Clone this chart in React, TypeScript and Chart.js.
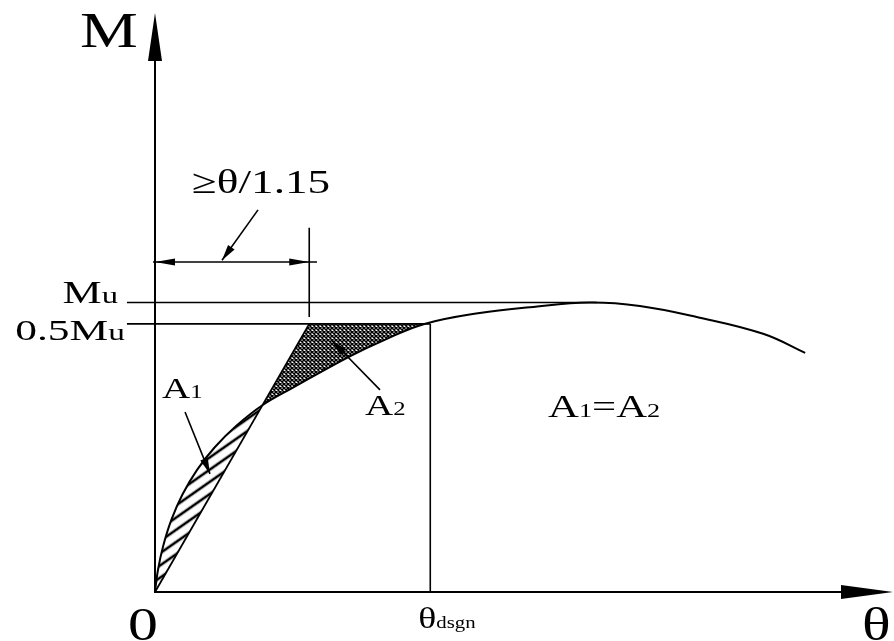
import React, { useEffect, useRef } from 'react';
import { Chart, registerables } from 'chart.js';

Chart.register(...registerables);

// Moment–rotation curve, rotation θ and moment M in plot units
const THETA = [0, 0.4, 1.1, 2.2, 3.7, 5.7, 8.1, 11.1, 14.6, 18.7, 26.4, 31.2, 36.5, 44.0, 50.8, 58.9, 65.7, 73.4, 82.4, 88.1];
const MOMENT = [0, 3.8, 7.9, 12.4, 16.8, 21.1, 25.0, 28.8, 32.3, 35.3, 40.7, 43.6, 46.3, 48.2, 49.2, 50.0, 49.4, 47.5, 44.6, 41.3];

// Idealised bilinear response
const MU = 50;
const M_PLATEAU = 46.3;
const THETA_YIELD = 20.9;
const THETA_DESIGN = 37.3;
const CROSS_INDEX = 8;    // curve point where the elastic branch crosses the curve
const PLATEAU_INDEX = 12; // curve point where the curve reaches the plateau level

// Tick labels
const Y_TICK_VALUES = [MU, M_PLATEAU];
const Y_TICK_MAIN = ['M', '0.5M'];
const Y_TICK_SUB = ['u', 'u'];
const X_TICK_VALUES = [0, THETA_DESIGN];
const X_TICK_MAIN = ['0', 'θ'];
const X_TICK_SUB = ['', 'dsgn'];

const AXIS_MAX_X = 100;
const AXIS_MAX_Y = 100;
const TICK_START = -3.8;
const MU_LINE_END = 59.9;

// Dimension line for the elastic branch
const DIM_LEVEL = 57.0;
const DIM_START = -0.27;
const DIM_END = 21.95;
const EXT_TOP = 62.9;
const EXT_BOTTOM = 47.5;

const FONT = '"Liberation Serif", "Times New Roman", serif';
const STRETCH = 1.3;

function makeHatch(ctx: CanvasRenderingContext2D) {
  const c = document.createElement('canvas');
  c.width = 10;
  c.height = 10;
  const g = c.getContext('2d')!;
  g.strokeStyle = '#000';
  g.lineWidth = 2.6;
  g.beginPath();
  g.moveTo(0, 5);
  g.lineTo(10, 5);
  g.stroke();
  const p = ctx.createPattern(c, 'repeat')!;
  p.setTransform(new DOMMatrix().rotate(-35));
  return p;
}

function makeMesh(ctx: CanvasRenderingContext2D) {
  const c = document.createElement('canvas');
  c.width = 4;
  c.height = 4;
  const g = c.getContext('2d')!;
  g.strokeStyle = '#000';
  g.lineWidth = 1.5;
  g.beginPath();
  g.moveTo(0, 0);
  g.lineTo(4, 4);
  g.moveTo(4, 0);
  g.lineTo(0, 4);
  g.stroke();
  return ctx.createPattern(c, 'repeat')!;
}

function arrowHead(ctx: CanvasRenderingContext2D, tx: number, ty: number, fx: number, fy: number, len: number, half: number) {
  const dx = tx - fx;
  const dy = ty - fy;
  const d = Math.hypot(dx, dy) || 1;
  const ux = dx / d;
  const uy = dy / d;
  const bx = tx - ux * len;
  const by = ty - uy * len;
  ctx.beginPath();
  ctx.moveTo(tx, ty);
  ctx.lineTo(bx - uy * half, by + ux * half);
  ctx.lineTo(bx + uy * half, by - ux * half);
  ctx.closePath();
  ctx.fill();
}

type Part = { text: string; size: number };

function drawLabel(ctx: CanvasRenderingContext2D, parts: Part[], x: number, y: number, align: 'left' | 'right' = 'left', stretch = STRETCH) {
  ctx.save();
  ctx.translate(x, y);
  ctx.scale(stretch, 1);
  ctx.textBaseline = 'alphabetic';
  ctx.textAlign = 'left';
  const widths = parts.map((p) => {
    ctx.font = `${p.size}px ${FONT}`;
    return ctx.measureText(p.text).width;
  });
  const total = widths.reduce((a, b) => a + b, 0);
  let cx = align === 'right' ? -total : 0;
  parts.forEach((p, i) => {
    ctx.font = `${p.size}px ${FONT}`;
    ctx.fillText(p.text, cx, 0);
    cx += widths[i];
  });
  ctx.restore();
}

const diagramPlugin = {
  id: 'momentRotationDiagram',
  beforeDatasetsDraw(chart: any) {
    const { ctx, scales } = chart;
    const px = (v: number) => scales.x.getPixelForValue(v);
    const py = (v: number) => scales.y.getPixelForValue(v);
    const line = chart.getDatasetMeta(0).dataset;
    if (line.updateControlPoints) line.updateControlPoints(chart.chartArea, 'x');

    ctx.save();
    // A1: curve above the elastic branch
    ctx.beginPath();
    line.path(ctx, 0, CROSS_INDEX + 1);
    ctx.lineTo(px(0), py(0));
    ctx.closePath();
    ctx.fillStyle = makeHatch(ctx);
    ctx.fill();

    // A2: between the idealised corner and the curve
    ctx.beginPath();
    line.path(ctx, CROSS_INDEX, PLATEAU_INDEX - CROSS_INDEX + 1);
    ctx.lineTo(px(THETA_YIELD), py(M_PLATEAU));
    ctx.closePath();
    ctx.fillStyle = makeMesh(ctx);
    ctx.fill();
    ctx.restore();
  },
  afterDatasetsDraw(chart: any) {
    const { ctx, scales } = chart;
    const px = (v: number) => scales.x.getPixelForValue(v);
    const py = (v: number) => scales.y.getPixelForValue(v);
    const x0 = px(0);
    const y0 = py(0);

    ctx.save();
    ctx.strokeStyle = '#000';
    ctx.fillStyle = '#000';
    ctx.lineCap = 'butt';

    // axes
    ctx.lineWidth = 2;
    ctx.beginPath();
    ctx.moveTo(x0, y0 + 1);
    ctx.lineTo(x0, py(AXIS_MAX_Y) + 20);
    ctx.moveTo(x0 - 1, y0);
    ctx.lineTo(px(AXIS_MAX_X) - 20, y0);
    ctx.stroke();
    arrowHead(ctx, x0, py(AXIS_MAX_Y), x0, y0, 48, 7);
    arrowHead(ctx, px(AXIS_MAX_X), y0, x0, y0, 52, 7);

    // dimension arrows
    const dy = py(DIM_LEVEL);
    arrowHead(ctx, x0, dy, px(DIM_END), dy, 20, 3.5);
    arrowHead(ctx, px(THETA_YIELD), dy, x0, dy, 20, 3.5);

    // leaders
    ctx.lineWidth = 1.6;
    const leaders = [
      [13.96, 66.0, 9.08, 57.3],
      [4.07, 31.1, 7.45, 20.4],
      [30.49, 34.9, 23.98, 43.4],
    ];
    leaders.forEach(([a, b, c, d]) => {
      const fx = px(a), fy = py(b), tx = px(c), ty = py(d);
      ctx.beginPath();
      ctx.moveTo(fx, fy);
      ctx.lineTo(tx, ty);
      ctx.stroke();
      arrowHead(ctx, tx, ty, fx, fy, 16, 4);
    });

    // labels
    drawLabel(ctx, [{ text: 'M', size: 50 }], 80, 47);
    drawLabel(ctx, [{ text: '≥θ/1.15', size: 34 }], 192, 193, 'left', 1.33);

    Y_TICK_VALUES.forEach((v, i) => {
      const yy = py(v);
      if (i === 0) {
        drawLabel(ctx, [{ text: Y_TICK_MAIN[i], size: 31 }, { text: Y_TICK_SUB[i], size: 23 }], px(TICK_START) - 9, yy, 'right', 1.42);
      } else {
        drawLabel(ctx, [{ text: Y_TICK_MAIN[i], size: 30 }, { text: Y_TICK_SUB[i], size: 23 }], px(TICK_START) - 2, yy + 16, 'right', 1.45);
      }
    });

    drawLabel(ctx, [{ text: X_TICK_MAIN[0], size: 46 }], px(X_TICK_VALUES[0]) - 27, 640);
    drawLabel(ctx, [{ text: X_TICK_MAIN[1], size: 29 }, { text: X_TICK_SUB[1], size: 16 }], px(X_TICK_VALUES[1]) - 12, 628);
    drawLabel(ctx, [{ text: 'θ', size: 46 }], px(AXIS_MAX_X) - 31, 640);

    drawLabel(ctx, [{ text: 'A', size: 30 }, { text: '1', size: 19 }], 162, 398);
    drawLabel(ctx, [{ text: 'A', size: 30 }, { text: '2', size: 19 }], 365, 415);
    drawLabel(ctx, [{ text: 'A', size: 31 }, { text: '1', size: 19 }, { text: '=', size: 31 }, { text: 'A', size: 31 }, { text: '2', size: 19 }], 548, 417, 'left', 1.38);

    ctx.restore();
  },
};

const segment = (pts: { x: number; y: number }[], width = 1.6) => ({
  data: pts,
  showLine: true,
  borderColor: '#000',
  borderWidth: width,
  pointRadius: 0,
  clip: false as const,
});

export default function App() {
  const ref = useRef<HTMLCanvasElement | null>(null);

  useEffect(() => {
    if (!ref.current) return;
    const curve = THETA.map((t, i) => ({ x: t, y: MOMENT[i] }));
    const chart = new Chart(ref.current, {
      type: 'scatter',
      data: {
        datasets: [
          { ...segment(curve, 2), tension: 0.4 },
          segment([{ x: 0, y: 0 }, { x: THETA_YIELD, y: M_PLATEAU }], 1.8),
          segment([{ x: TICK_START, y: M_PLATEAU }, { x: THETA_DESIGN, y: M_PLATEAU }]),
          segment([{ x: TICK_START, y: MU }, { x: MU_LINE_END, y: MU }]),
          segment([{ x: THETA_DESIGN, y: 0 }, { x: THETA_DESIGN, y: M_PLATEAU }]),
          segment([{ x: THETA_YIELD, y: EXT_TOP }, { x: THETA_YIELD, y: EXT_BOTTOM }]),
          segment([{ x: DIM_START, y: DIM_LEVEL }, { x: DIM_END, y: DIM_LEVEL }]),
        ],
      },
      options: {
        responsive: false,
        animation: false,
        events: [],
        layout: { padding: { left: 155, right: 1, top: 13, bottom: 49 } },
        plugins: { legend: { display: false }, tooltip: { enabled: false } },
        scales: {
          x: { type: 'linear', min: 0, max: AXIS_MAX_X, display: false },
          y: { type: 'linear', min: 0, max: AXIS_MAX_Y, display: false },
        },
      },
      plugins: [diagramPlugin],
    });
    return () => chart.destroy();
  }, []);

  return (
    <div style={{ position: 'absolute', left: 0, top: 0, width: 894, height: 641, background: '#fff' }}>
      <canvas ref={ref} width={894} height={641} style={{ display: 'block' }} />
    </div>
  );
}
